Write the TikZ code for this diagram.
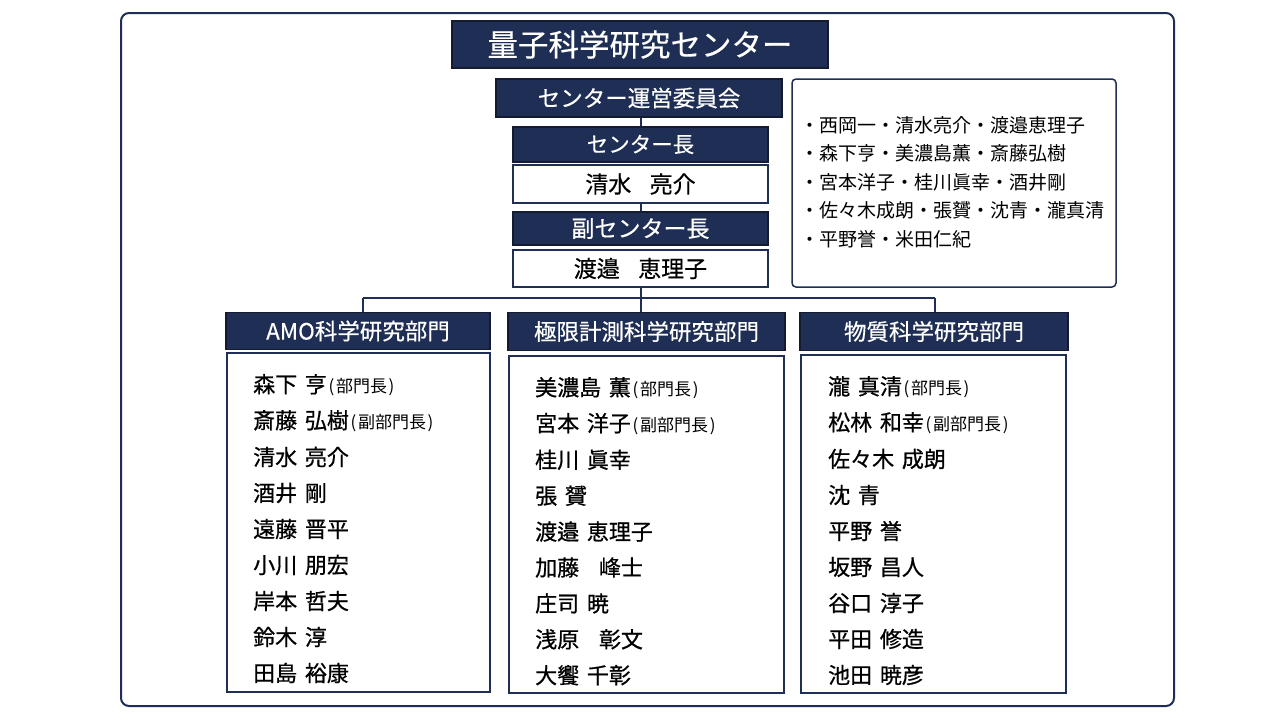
\documentclass[tikz,border=0pt]{standalone}
\usepackage{fontspec}
\setmainfont{Noto Sans CJK JP}
\newfontfamily\jpb{Noto Sans CJK JP}[FakeBold=0.7]
\newfontfamily\jph{Noto Sans CJK JP}[FakeBold=0.4]
\definecolor{navy}{HTML}{1F2E54}
\definecolor{navyd}{HTML}{141B30}
\newcommand{\hs}{\hspace{0.35em}}
\newcommand{\sm}[1]{{\rmfamily\fontsize{17}{18}\selectfont\hspace{0.1em}(\hspace{0.1em}#1\hspace{0.1em})}}
\begin{document}
\begin{tikzpicture}[x=1pt,y=-1pt,
  hdr/.style={draw=navyd,line width=1.5pt,fill=navy,text=white,inner sep=0pt},
  wbox/.style={draw=navy,line width=1.8pt,fill=white,inner sep=0pt},
  conn/.style={draw=navy,line width=2pt},
  nameline/.style={anchor=west,inner sep=0pt,font=\jpb\fontsize{22}{24}\selectfont},
  lst/.style={anchor=west,inner sep=0pt,font=\fontsize{19}{22}\selectfont}]
\fill[white] (0,0) rectangle (1280,720);
\useasboundingbox (0,0) rectangle (1280,720);
\draw[navy,line width=2pt,rounded corners=8pt] (121,13) rectangle (1174,706);

% top column
\node[hdr,minimum width=376pt,minimum height=47pt,font=\jph\fontsize{30.5}{32}\selectfont] (title) at (640,44.5) {量子科学研究センター};
\node[hdr,minimum width=286pt,minimum height=38pt,font=\jph\fontsize{22.5}{24}\selectfont] (comm) at (639,98) {センター運営委員会};
\node[hdr,minimum width=255pt,minimum height=35pt,font=\jph\fontsize{21.5}{24}\selectfont] (head) at (640.5,144.5) {センター長};
\node[wbox,minimum width=255pt,minimum height=38pt,font=\jph\fontsize{23}{24}\selectfont] (headn) at (640.5,184) {清水\hspace{0.8em}亮介};
\node[hdr,minimum width=255pt,minimum height=33pt,font=\jph\fontsize{23}{24}\selectfont] (vice) at (640.5,228.5) {副センター長};
\node[wbox,minimum width=255pt,minimum height=37pt,font=\jph\fontsize{23}{24}\selectfont] (vicen) at (640.5,268.5) {渡邉\hspace{0.8em}恵理子};

% member list box
\node[draw=navy,line width=1.5pt,rounded corners=4pt,fill=white,minimum width=324pt,minimum height=208pt] (members) at (954,183) {};
\foreach \t [count=\i] in {{・西岡一・清水亮介・渡邉恵理子},{・森下亨・美濃島薫・斎藤弘樹},{・宮本洋子・桂川眞幸・酒井剛},{・佐々木成朗・張贇・沈青・瀧真清},{・平野誉・米田仁紀}}
  \node[lst] (m\i) at (800,125+28.5*\i-28.5) {\t};

% department headers
\node[hdr,minimum width=264pt,minimum height=37pt,font=\jph\fontsize{22.5}{24}\selectfont] (d1) at (358,331) {AMO科学研究部門};
\node[hdr,minimum width=277pt,minimum height=38pt,font=\jph\fontsize{22.5}{24}\selectfont] (d2) at (646.5,331.5) {極限計測科学研究部門};
\node[hdr,minimum width=268pt,minimum height=38pt,font=\jph\fontsize{22.5}{24}\selectfont] (d3) at (934,331.5) {物質科学研究部門};

% department bodies
\node[wbox,minimum width=263pt,minimum height=339pt] (b1) at (358.5,522.5) {};
\node[wbox,minimum width=275pt,minimum height=337pt] (b2) at (646.5,524.5) {};
\node[wbox,minimum width=265pt,minimum height=338pt] (b3) at (933.5,524) {};

% connectors
\coordinate (hl) at (363,298);
\coordinate (hm) at (640.5,298);
\coordinate (hr) at (935,298);
\draw[conn] (head.north) -- (head.north |- comm.south);
\draw[conn] (headn.south) -- (vice.north);
\draw[conn] (vicen.south) -- (hm);
\draw[conn] (hl) -- (hr);
\draw[conn] (hl) -- (hl |- d1.north);
\draw[conn] (hm) -- (hm |- d2.north);
\draw[conn] (hr) -- (hr |- d3.north);

% names
\foreach \t [count=\i] in {{森下\hs 亨\sm{部門長}},{斎藤\hs 弘樹\sm{副部門長}},{清水\hs 亮介},{酒井\hs 剛},{遠藤\hs 晋平},{小川\hs 朋宏},{岸本\hs 哲夫},{鈴木\hs 淳},{田島\hs 裕康}}
  \node[nameline] (a\i) at (253,385+36*\i-36) {\t};
\foreach \t [count=\i] in {{美濃島\hs 薫\sm{部門長}},{宮本\hs 洋子\sm{副部門長}},{桂川\hs 眞幸},{張\hs 贇},{渡邉\hs 恵理子},{加藤\hspace{0.9em}峰士},{庄司\hs 暁},{浅原\hspace{0.9em}彰文},{大饗\hs 千彰}}
  \node[nameline] (c\i) at (535,388+35.9*\i-35.9) {\t};
\foreach \t [count=\i] in {{瀧\hs 真清\sm{部門長}},{松林\hs 和幸\sm{副部門長}},{佐々木\hs 成朗},{沈\hs 青},{平野\hs 誉},{坂野\hs 昌人},{谷口\hs 淳子},{平田\hs 修造},{池田\hs 暁彦}}
  \node[nameline] (e\i) at (828,387+36*\i-36) {\t};
\end{tikzpicture}
\end{document}
